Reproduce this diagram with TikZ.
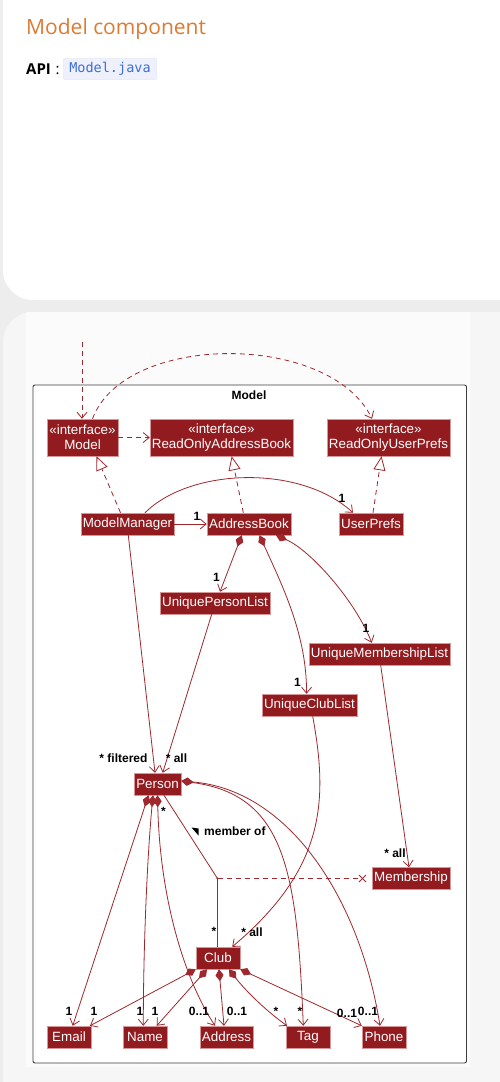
\documentclass[tikz,border=0pt]{standalone}
\usepackage{fontspec}
\setmainfont{Liberation Sans}
\newfontfamily\hdfont{Open Sans}
\setmonofont{DejaVu Sans Mono}
\usetikzlibrary{arrows.meta}
\definecolor{pagebg}{RGB}{237,237,237}
\definecolor{cardtwo}{RGB}{246,246,246}
\definecolor{diagbg}{RGB}{251,251,251}
\definecolor{hdorange}{RGB}{222,122,50}
\definecolor{codebg}{RGB}{238,240,251}
\definecolor{codeborder}{RGB}{222,226,244}
\definecolor{codeblue}{RGB}{60,110,215}
\definecolor{umlred}{RGB}{145,27,31}
\definecolor{umledge}{RGB}{215,150,152}
\definecolor{linecol}{RGB}{158,40,46}
\definecolor{framecol}{RGB}{60,60,60}
\tikzset{
 cls/.style={rectangle, fill=umlred, draw=umledge, line width=0.5pt, text=white,
   font=\fontsize{13.4}{15}\selectfont, inner sep=0pt, minimum height=22pt, align=center},
 rel/.style={draw=linecol, line width=0.8pt},
 dsh/.style={rel, dash pattern=on 5pt off 4pt},
 arr/.style={-{Straight Barb[length=6pt,width=10pt]}},
 real/.style={-{Triangle[length=14pt,width=12pt,fill=white]}},
 comp/.style={{Diamond[length=12pt,width=8pt]}-{Straight Barb[length=6pt,width=10pt]}},
 mult/.style={font=\bfseries\fontsize{12}{13}\selectfont, inner sep=0pt, text=black},
}
\begin{document}
\begin{tikzpicture}[x=1pt,y=-1pt]
\useasboundingbox (0,0) rectangle (500,1082);
% page and cards
\fill[pagebg] (0,0) rectangle (500,1082);
\fill[white, rounded corners=30pt] (3,-60) rectangle (560,300);
\fill[cardtwo, rounded corners=30pt] (3,312) rectangle (560,1140);
\fill[diagbg] (26,312) rectangle (470,1067);
% header
\node[anchor=base west, inner sep=0pt, font=\hdfont\fontsize{21}{24}\selectfont, text=hdorange] (title) at (26,34) {Model component};
\node[anchor=base west, inner sep=0pt, font=\hdfont\bfseries\fontsize{15}{18}\selectfont] (api) at (26,74) {API};
\node[anchor=base west, inner sep=0pt, font=\hdfont\fontsize{15}{18}\selectfont] (colon) at (55.5,74) {:};
\node[draw=codeborder, fill=codebg, rounded corners=2.5pt, minimum width=93.5pt, minimum height=21.5pt, inner sep=0pt,
  font=\ttfamily\fontsize{13.5}{16}\selectfont, text=codeblue] (code) at (110,69) {Model.java};
% frame
\fill[white] (33,385) rectangle (466.5,1063);
\draw[framecol, line width=0.9pt, rounded corners=2pt] (33,385) rectangle (466.5,1063);
\node[font=\bfseries\fontsize{12}{14}\selectfont, inner sep=0pt] (frametitle) at (249,395.5) {Model};
% classes
\node[cls, minimum width=71pt, minimum height=37pt] (model) at (82.5,437.5) {«interface»\\Model};
\node[cls, minimum width=143pt, minimum height=37pt] (roab) at (221.5,437.5) {«interface»\\ReadOnlyAddressBook};
\node[cls, minimum width=123pt, minimum height=37pt] (roup) at (388.5,437.5) {«interface»\\ReadOnlyUserPrefs};
\node[cls, minimum width=93pt] (mm) at (127.5,524) {ModelManager};
\node[cls, minimum width=84pt] (ab) at (249,524) {AddressBook};
\node[cls, minimum width=64pt] (up) at (371,524) {UserPrefs};
\node[cls, minimum width=110pt] (upl) at (215,603) {UniquePersonList};
\node[cls, minimum width=141pt] (uml) at (379.5,654) {UniqueMembershipList};
\node[cls, minimum width=95pt] (ucl) at (309.5,705) {UniqueClubList};
\node[cls, minimum width=47pt] (person) at (157.5,784) {Person};
\node[cls, minimum width=78pt] (membership) at (411,878.5) {Membership};
\node[cls, minimum width=44pt] (club) at (218,958) {Club};
\node[cls, minimum width=44pt] (email) at (69,1037) {Email};
\node[cls, minimum width=44pt] (name) at (145,1037) {Name};
\node[cls, minimum width=53pt] (address) at (226.5,1037) {Address};
\node[cls, minimum width=44pt] (tag) at (308,1037) {Tag};
\node[cls, minimum width=44pt] (phone) at (384,1037) {Phone};
% external dependency
\coordinate (ext) at (82,342);
\draw[dsh, arr] (ext) -- ([xshift=-0.5pt]model.north);
\draw[dsh, arr] ([xshift=10pt]model.north) .. controls (125,332) and (330,332) .. ([xshift=-16.5pt]roup.north);
\draw[dsh, arr] (model.east) -- (roab.west);
% realizations
\draw[dsh, real] ([xshift=-7pt]mm.north) -- ([xshift=14pt]model.south);
\draw[dsh, real] ([xshift=-5.7pt]ab.north) -- ([xshift=10.2pt]roab.south);
\draw[dsh, real] ([xshift=2pt]up.north) -- ([xshift=-7pt]roup.south);
% model manager
\draw[rel, arr] (mm.east) -- (ab.west);
\node[mult] (m1) at (197,516) {1};
\draw[rel, arr] ([xshift=17.5pt]mm.north) .. controls (190,468) and (300,464) .. ([xshift=-18pt]up.north);
\node[mult] (m2) at (342,498) {1};
% address book compositions
\draw[rel, comp] ([xshift=-7.3pt]ab.south) -- ([xshift=5pt]upl.north);
\node[mult] (m3) at (216.5,577) {1};
\draw[rel, comp] ([xshift=10.5pt]ab.south) .. controls (282,585) and (307,635) .. ([xshift=-3pt]ucl.north);
\node[mult] (m4) at (297.5,682) {1};
\draw[rel, comp] ([xshift=27pt]ab.south) .. controls (310,550) and (355,600) .. ([xshift=-7.8pt]uml.north);
\node[mult] (m5) at (366,628) {1};
% to person
\draw[rel, arr] ([xshift=0.8pt]mm.south) -- ([xshift=-2.5pt]person.north);
\node[mult] (m6) at (123.5,758) {* filtered};
\draw[rel, arr] ([xshift=-3.3pt]upl.south) -- ([xshift=5.2pt]person.north);
\node[mult] (m7) at (176.5,758) {* all};
% membership list
\draw[rel, arr] ([xshift=1.2pt]uml.south) -- ([xshift=-2pt]membership.north);
\node[mult] (m8) at (395,853) {* all};
% club list
\draw[rel, arr] ([xshift=3.2pt]ucl.south) .. controls (328,800) and (326,868) .. ([xshift=-8pt]club.north east);
\node[mult] (m9) at (252,932) {* all};
% member of
\coordinate (j) at (217.5,878.5);
\draw[rel] ([xshift=6.5pt]person.south) -- (j) -- ([xshift=-0.5pt]club.north);
\fill[linecol] (j) circle (1.2pt);
\draw[dsh] (j) -- ([xshift=-14pt]membership.west);
\coordinate (xm) at (362.5,878.5);
\draw[rel] ([shift={(-3.5,-3.5)}]xm) -- ([shift={(3.5,3.5)}]xm);
\draw[rel] ([shift={(-3.5,3.5)}]xm) -- ([shift={(3.5,-3.5)}]xm);
\node[mult] (m10) at (163.5,811) {*};
\node[mult] (m11) at (214,931) {*};
\fill[black] (191.5,827.5) -- (198.5,828.5) -- (198.5,835.5) -- cycle;
\node[mult, anchor=west] (mof) at (204,831) {member of};
% person compositions
\draw[rel, comp] ([xshift=-9pt]person.south) -- ([xshift=3.7pt]email.north);
\node[mult] (m12) at (69,1011) {1};
\draw[rel, comp] ([xshift=-4.5pt]person.south) .. controls (147,860) and (143.3,950) .. ([xshift=-1.7pt]name.north);
\node[mult] (m13) at (140,1011) {1};
\draw[rel, comp] (person.south) .. controls (160,900) and (185,980) .. ([xshift=-11.5pt]address.north);
\node[mult] (m14) at (199,1011) {0..1};
\draw[rel, comp] ([yshift=3pt]person.east) .. controls (285,795) and (297,870) .. ([xshift=-4.7pt]tag.north);
\node[mult] (m15) at (300,1011) {*};
\draw[rel, comp] ([yshift=3pt]person.east) .. controls (290,790) and (360,900) .. ([xshift=-4pt]phone.north);
\node[mult] (m16) at (368,1011) {0..1};
% club compositions
\draw[rel, comp] (club.south west) -- ([xshift=21pt]email.north);
\node[mult] (m17) at (94,1011) {1};
\draw[rel, comp] ([xshift=-11pt]club.south) -- ([xshift=11.7pt]name.north);
\node[mult] (m18) at (155,1011) {1};
\draw[rel, comp] ([xshift=1pt]club.south) -- ([xshift=-2.5pt]address.north);
\node[mult] (m19) at (237,1011) {0..1};
\draw[rel, comp] ([xshift=11pt]club.south) .. controls (245,990) and (265,1010) .. ([xshift=-21pt]tag.north);
\node[mult] (m20) at (276,1011) {*};
\draw[rel, comp] (club.south east) -- (phone.north west);
\node[mult] (m21) at (347,1013) {0..1};
\end{tikzpicture}
\end{document}
